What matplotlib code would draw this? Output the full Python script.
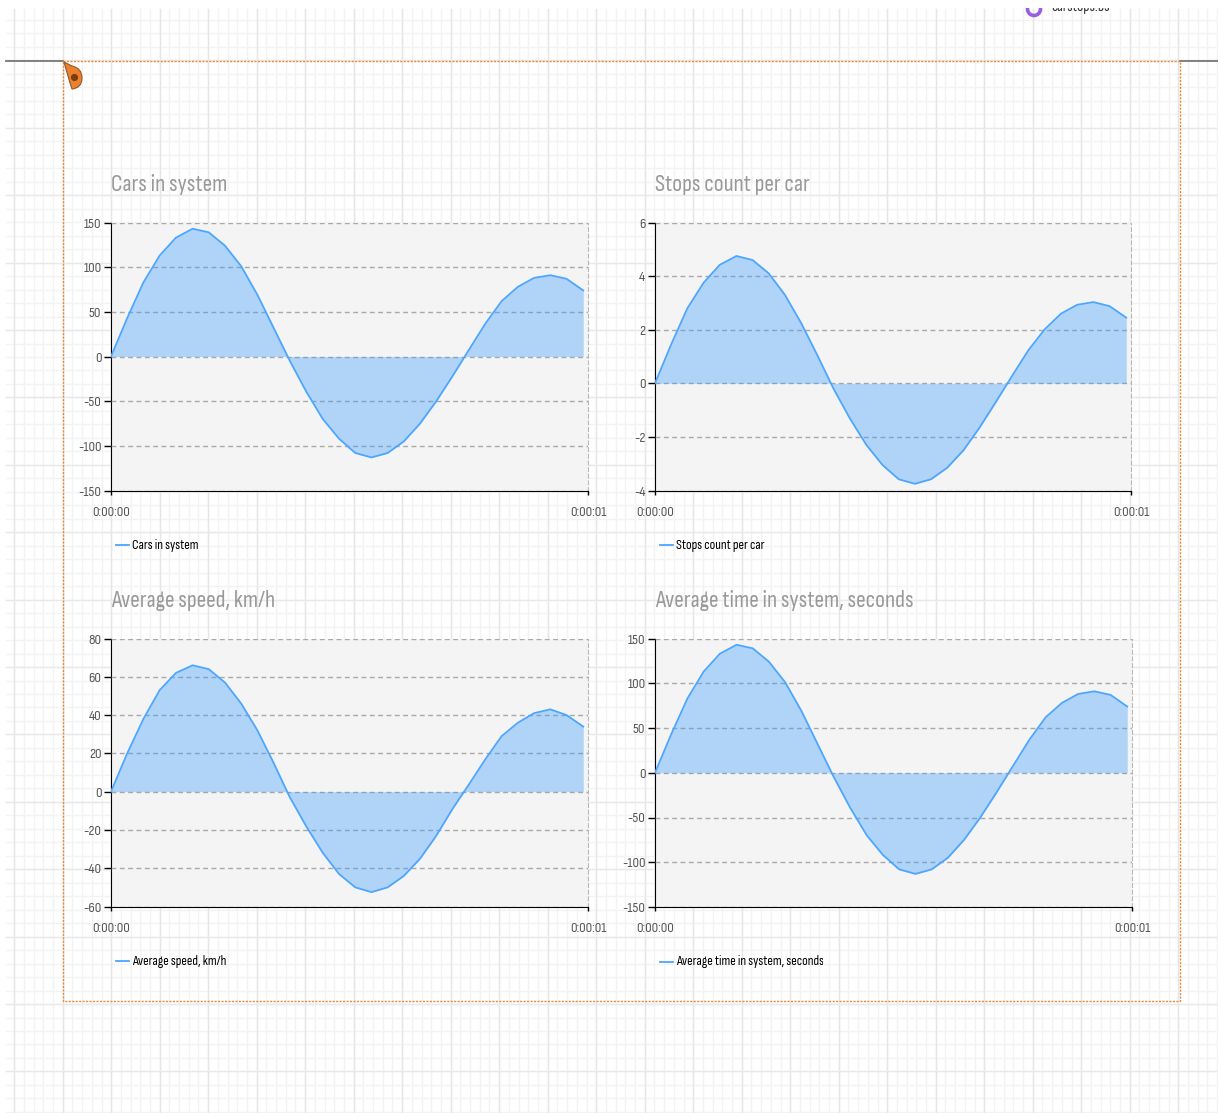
import numpy as np
import matplotlib
matplotlib.use('Agg')
import matplotlib.pyplot as plt
from matplotlib.patches import PathPatch, Rectangle, Circle
from matplotlib.path import Path

plt.rcParams['font.family'] = ['Sofia Sans Condensed', 'Liberation Sans', 'DejaVu Sans']
plt.rcParams['axes.unicode_minus'] = False

# time of each sample, seconds
seconds = [0, .034, .068, .102, .136, .171, .205, .239, .273, .307,
           .341, .375, .409, .444, .478, .512, .546, .580, .614, .648,
           .682, .716, .751, .785, .819, .853, .887, .921, .955, .990]

cars = [0, 43, 83, 113, 133, 143, 139, 124, 101, 69,
        32, -5, -39, -70, -92, -108, -113, -108, -95, -75,
        -50, -22, 8, 37, 62, 78, 88, 91, 87, 74]
stops = [0, 1.45, 2.8, 3.75, 4.42, 4.75, 4.6, 4.1, 3.3, 2.25,
         1.05, -0.2, -1.3, -2.3, -3.05, -3.58, -3.75, -3.58, -3.15, -2.5,
         -1.65, -0.7, 0.3, 1.25, 2.02, 2.6, 2.93, 3.03, 2.88, 2.45]
speed = [0, 20, 38, 53, 62, 66, 64, 57, 46, 32,
         15, -3, -18, -32, -43, -50, -52.5, -50, -44, -35,
         -23, -9, 4, 17, 29, 36, 41, 43, 40, 34]
avg_time = [0, 43, 83, 113, 133, 143, 139, 124, 101, 69,
            32, -5, -39, -70, -92, -108, -113, -108, -95, -75,
            -50, -22, 8, 37, 62, 78, 88, 91, 87, 74]

titles = ['Cars in system', 'Stops count per car',
          'Average speed, km/h', 'Average time in system, seconds']
series = [cars, stops, speed, avg_time]
y_ticks = [[-150, -100, -50, 0, 50, 100, 150],
           [-4, -2, 0, 2, 4, 6],
           [-60, -40, -20, 0, 20, 40, 60, 80],
           [-150, -100, -50, 0, 50, 100, 150]]
x_labels = ['0:00:00', '0:00:01']

# panel boxes in picture pixels: left, right, top, bottom
boxes = [(111, 588, 222.5, 490.5), (655, 1131, 222.5, 490.5),
         (111, 588, 638.5, 906.5), (655, 1132, 638.5, 907)]

W, H = 1218, 1113
fig = plt.figure(figsize=(W / 100, H / 100), dpi=100, facecolor='white')

# page background in pixel coordinates
bg = fig.add_axes([0, 0, 1, 1])
bg.set_xlim(0, W)
bg.set_ylim(H, 0)
bg.axis('off')

for x in np.arange(14.2, W, 9.7):
    bg.plot([x, x], [8.5, H], color='#f3f3f3', lw=1, zorder=1)
for y in np.arange(20, H, 13.48):
    bg.plot([6, W], [y, y], color='#f3f3f3', lw=1, zorder=1)
for x in np.arange(14.2, W, 48.5):
    bg.plot([x, x], [8.5, H], color='#e6e6e6', lw=1, zorder=2)
for y in np.arange(60.3, H, 67.4):
    bg.plot([6, W], [y, y], color='#e9e9e9', lw=1, zorder=2)

# selection frame
bg.plot([6, 63], [61, 61], color='#777777', lw=1.3, zorder=3)
bg.plot([1180, W], [61, 61], color='#777777', lw=1.3, zorder=3)
bg.add_patch(Rectangle((63, 61), 1117, 939.5, fill=False, ec='#e8893a', lw=1,
                       ls=(0, (1.5, 1)), zorder=3))

# pin in the corner
pin = Path([(64, 62), (72, 66), (82, 68), (82, 78), (82, 88), (72, 89), (70, 83), (68, 76), (64, 62)],
           [Path.MOVETO, Path.LINETO, Path.CURVE3, Path.CURVE3, Path.CURVE3, Path.CURVE3,
            Path.LINETO, Path.LINETO, Path.CLOSEPOLY])
bg.add_patch(PathPatch(pin, fc='#ee7f2d', ec='#8a5a30', lw=0.8, zorder=4))
bg.add_patch(Circle((74.5, 77.5), 3.6, fc='#7a3d0c', ec='none', zorder=5))

# clipped label at the top of the page
top_clip = Rectangle((0, 8), W, H, transform=bg.transData)
ring = Circle((1034, 9), 6.5, fc='none', ec='#9a5fe0', lw=2.6, zorder=4)
bg.add_patch(ring)
ring.set_clip_path(top_clip)
top_txt = bg.text(1051, 11.5, 'carstops.bs', fontsize=10.8, color='#333333', ha='left',
                  va='baseline', zorder=4, clip_on=True)
top_txt.set_clip_path(top_clip)

for box, title, vals, ticks in zip(boxes, titles, series, y_ticks):
    left, right, top, bottom = box
    ax = fig.add_axes([left / W, 1 - bottom / H, (right - left) / W, (bottom - top) / H])
    ax.set_facecolor('#f4f4f4')
    ax.plot(seconds, vals, color='#4da6ff', lw=1.3, zorder=4)
    ax.fill_between(seconds, vals, 0, color='#3399ff', alpha=0.35, lw=0, zorder=3)
    ax.set_xlim(0, 1)
    ax.set_ylim(ticks[0], ticks[-1])
    ax.set_yticks(ticks)
    ax.set_xticks([0, 1])
    ax.set_xticklabels(x_labels)
    ax.yaxis.grid(True, color='#a8a8a8', ls=(0, (3.5, 2.5)), lw=1, zorder=5)
    ax.set_axisbelow(False)
    ax.tick_params(axis='y', length=5, width=1, pad=2, labelsize=10.5, labelcolor='#555555')
    ax.tick_params(axis='x', length=3, width=1, pad=8, labelsize=10.5, labelcolor='#555555')
    ax.spines['top'].set_visible(False)
    ax.spines['right'].set_color('#b8b8b8')
    ax.spines['right'].set_linestyle((0, (3.5, 2.5)))
    ax.spines['left'].set_color('black')
    ax.spines['bottom'].set_color('black')

    bg.text(left, top - 38, title, fontsize=17, color='#999999', ha='left', va='center', zorder=6)

    # legend row sits 54 px under the plot
    ly = bottom + 54.5
    bg.plot([left + 5, left + 18], [ly, ly], color='#4da6ff', lw=1.3, zorder=6)
    lt = bg.text(left + 21, ly, title, fontsize=9.8, color='black', ha='left', va='center',
                 zorder=6, clip_on=True)
    lt.set_clip_path(Rectangle((left, ly - 15), 168, 30, transform=bg.transData))

fig.savefig('out.png', dpi=100)
